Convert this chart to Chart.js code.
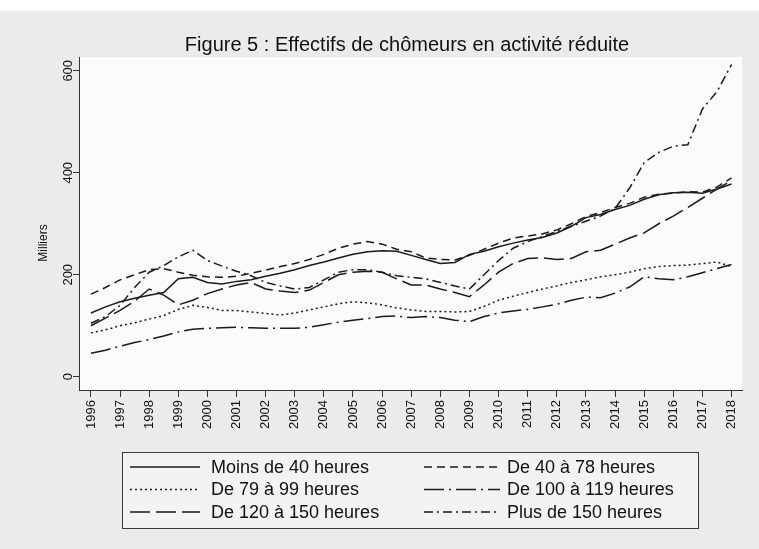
<!DOCTYPE html>
<html><head><meta charset="utf-8">
<script src="https://cdn.jsdelivr.net/npm/chart.js@4/dist/chart.umd.min.js"></script>
<style>html,body{margin:0;padding:0;background:#ebebeb;}#wrap{width:759px;height:549px;}</style>
</head><body><div id="wrap"><canvas id="c" width="759" height="549"></canvas></div>
<script>
const titleText = "Figure 5 : Effectifs de chômeurs en activité réduite";
const yTitle = "Milliers";
const periods = [1996,1996.5,1997,1997.5,1998,1998.5,1999,1999.5,2000,2000.5,2001,2001.5,2002,2002.5,2003,2003.5,2004,2004.5,2005,2005.5,2006,2006.5,2007,2007.5,2008,2008.5,2009,2009.5,2010,2010.5,2011,2011.5,2012,2012.5,2013,2013.5,2014,2014.5,2015,2015.5,2016,2016.5,2017,2017.5,2018];
const yearTicks = [1996,1997,1998,1999,2000,2001,2002,2003,2004,2005,2006,2007,2008,2009,2010,2011,2012,2013,2014,2015,2016,2017,2018];
const yTicks = [0,200,400,600];
const seriesNames = ["Moins de 40 heures","De 40 à 78 heures","De 79 à 99 heures","De 100 à 119 heures","De 120 à 150 heures","Plus de 150 heures"];
const moins40 = [125,137,147,154,160,165,192,195,185,182,187,190,197,203,210,218,225,233,240,245,247,246,238,230,222,224,240,246,255,262,268,273,282,295,312,318,328,336,348,357,361,362,360,368,378];
const de40a78 = [162,175,190,200,210,212,205,199,196,195,197,203,209,216,222,230,240,252,260,265,260,250,245,233,230,229,238,250,262,272,276,280,288,300,314,322,332,340,352,358,360,363,362,372,390];
const de79a99 = [86,92,100,106,113,120,132,140,136,130,130,127,124,121,125,131,137,143,147,145,141,135,131,128,128,127,128,138,150,158,165,172,178,185,190,196,200,205,212,216,218,219,222,225,216];
const de100a119 = [46,52,60,67,73,80,88,93,95,96,97,96,95,95,95,97,102,107,111,114,118,119,116,118,116,111,108,118,125,129,132,137,142,150,156,155,164,176,196,192,190,196,204,212,220];
const de120a150 = [100,115,130,148,172,160,141,150,163,172,180,185,172,168,165,170,185,200,205,207,205,192,180,180,172,165,157,180,205,222,232,233,230,232,245,248,260,272,282,300,315,332,350,368,385];
const plus150 = [105,118,140,175,205,218,235,248,228,217,207,198,185,178,172,175,190,205,210,210,205,198,195,192,185,178,172,200,228,252,265,275,285,295,305,315,330,370,420,440,452,455,525,559,612];

const seriesValues = [moins40, de40a78, de79a99, de100a119, de120a150, plus150];
const dashes = [[], [8,5], [2,3], [20,5,2,5], [20,6], [9,4,2,4]];
const legendOrder = [[0,1],[2,3],[4,5]];

const datasets = seriesValues.map((vals, i) => ({
  label: seriesNames[i],
  data: periods.map((p, j) => ({x: p, y: vals[j]})),
  borderColor: '#1a1a1a',
  borderWidth: 1.5,
  borderDash: dashes[i],
  pointRadius: 0,
  tension: 0,
  fill: false
}));

const FONT = '"Liberation Sans", Arial, Helvetica, sans-serif';

const decor = {
  id: 'decor',
  beforeDraw(chart) {
    const ctx = chart.ctx, a = chart.chartArea;
    ctx.save();
    ctx.fillStyle = '#ebebeb';
    ctx.fillRect(0, 0, chart.width, chart.height);
    ctx.fillStyle = '#ffffff';
    ctx.fillRect(0, 0, chart.width, 11);
    ctx.fillStyle = '#fbfbfb';
    ctx.fillRect(a.left, a.top, a.right - a.left, a.bottom - a.top);
    ctx.restore();
  },
  afterDraw(chart) {
    const ctx = chart.ctx, ys = chart.scales.y;
    ctx.save();
    ctx.fillStyle = '#111';
    // title
    ctx.font = '20px ' + FONT;
    ctx.textAlign = 'center';
    ctx.textBaseline = 'alphabetic';
    ctx.fillText(titleText, 407, 51);
    // y tick labels (vertical)
    ctx.font = '13px ' + FONT;
    yTicks.forEach(v => {
      const y = ys.getPixelForValue(v);
      ctx.save();
      ctx.translate(72, y);
      ctx.rotate(-Math.PI / 2);
      ctx.textAlign = 'center';
      ctx.fillText(String(v), 0, 0);
      ctx.restore();
    });
    // y title
    ctx.save();
    ctx.translate(47, 243);
    ctx.rotate(-Math.PI / 2);
    ctx.textAlign = 'center';
    ctx.font = '12px ' + FONT;
    ctx.fillText(yTitle, 0, 0);
    ctx.restore();
    // legend
    const bx = 122, by = 452, bw = 576, bh = 76;
    ctx.fillStyle = '#f3f3f3';
    ctx.fillRect(bx, by, bw, bh);
    ctx.strokeStyle = '#3a3a3a';
    ctx.lineWidth = 1;
    ctx.strokeRect(bx + 0.5, by + 0.5, bw, bh);
    const rowsY = [467, 489.5, 512];
    const cols = [{x0: 130, x1: 200, tx: 211}, {x0: 424, x1: 500, tx: 507}];
    ctx.font = '18px ' + FONT;
    ctx.textAlign = 'left';
    ctx.textBaseline = 'middle';
    legendOrder.forEach((row, r) => {
      row.forEach((di, c) => {
        const ds = chart.data.datasets[di];
        const col = cols[c];
        ctx.beginPath();
        ctx.setLineDash(ds.borderDash);
        ctx.strokeStyle = ds.borderColor;
        ctx.lineWidth = ds.borderWidth;
        ctx.moveTo(col.x0, rowsY[r]);
        ctx.lineTo(col.x1, rowsY[r]);
        ctx.stroke();
        ctx.setLineDash([]);
        ctx.fillStyle = '#111';
        ctx.fillText(ds.label, col.tx, rowsY[r] + 1);
      });
    });
    ctx.restore();
  }
};

new Chart(document.getElementById('c'), {
  type: 'line',
  data: { datasets },
  options: {
    responsive: false,
    animation: false,
    devicePixelRatio: 1,
    layout: { padding: { top: 57, right: 17, left: 0, bottom: 0 } },
    plugins: { legend: { display: false }, title: { display: false }, tooltip: { enabled: false } },
    scales: {
      x: {
        type: 'linear',
        min: 1995.59,
        max: 2018.36,
        afterBuildTicks: s => { s.ticks = yearTicks.map(v => ({ value: v })); },
        afterFit: s => { s.height = 159; },
        ticks: {
          autoSkip: false, minRotation: 90, maxRotation: 90,
          font: { size: 13, family: FONT }, color: '#111', padding: 3,
          callback: v => String(v)
        },
        grid: { drawOnChartArea: false, drawTicks: true, tickLength: 7, color: '#333', lineWidth: 1 },
        border: { display: true, color: '#333', width: 1 }
      },
      y: {
        type: 'linear',
        min: -26,
        max: 627,
        afterBuildTicks: s => { s.ticks = yTicks.map(v => ({ value: v })); },
        afterFit: s => { s.width = 79; },
        ticks: { display: false },
        grid: { drawOnChartArea: false, drawTicks: true, tickLength: 6, color: '#333', lineWidth: 1 },
        border: { display: true, color: '#333', width: 1 }
      }
    }
  },
  plugins: [decor]
});
</script></body></html>
